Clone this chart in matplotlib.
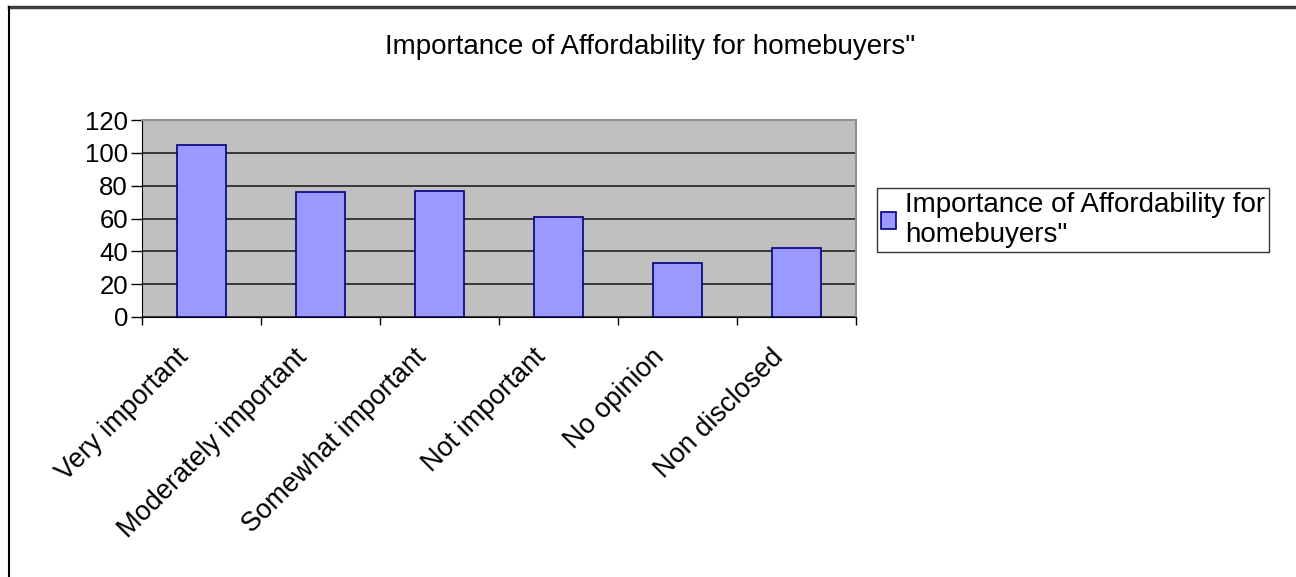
import numpy as np
import matplotlib
matplotlib.use("Agg")
import matplotlib.pyplot as plt
from matplotlib.lines import Line2D

plt.rcParams['font.family'] = ['Liberation Sans', 'DejaVu Sans']

categories = ["Very important", "Moderately important", "Somewhat important",
              "Not important", "No opinion", "Non disclosed"]
values = [105, 76, 77, 61, 33, 42]
series_name = 'Importance of Affordability for\nhomebuyers"'
title = 'Importance of Affordability for homebuyers"'
yticks = [0, 20, 40, 60, 80, 100, 120]

fig = plt.figure(figsize=(12.96, 5.77), dpi=100)
W, H = 1296, 577
ax = fig.add_axes([142 / W, 1 - 317 / H, (856 - 142) / W, (317 - 120) / H])

x = np.arange(len(categories))
ax.set_facecolor("#C0C0C0")
ax.bar(x, values, width=0.41, color="#9999FF", edgecolor="#000080",
       linewidth=1.2, zorder=3, label=series_name)
ax.set_xlim(-0.5, len(categories) - 0.5)
ax.set_ylim(0, 120)
ax.set_yticks(yticks)
ax.set_yticklabels([str(v) for v in yticks], fontsize=18.5)
ax.yaxis.grid(True, color="#202020", linewidth=1.2, zorder=1)
ax.set_axisbelow(True)

# category boundaries as ticks
ax.set_xticks(np.arange(len(categories) + 1) - 0.5)
ax.set_xticklabels([])
ax.tick_params(axis="x", direction="out", length=6, width=1, color="black")
ax.tick_params(axis="y", direction="out", length=8, width=1, color="black", pad=2)
for i, c in enumerate(categories):
    ax.text(i - 0.22, -16.5, c, rotation=45, ha="right", va="top",
            rotation_mode="anchor", fontsize=19.5)

for s in ["top", "right"]:
    ax.spines[s].set_color("#909090")
    ax.spines[s].set_linewidth(1.5)
ax.spines["left"].set_color("black")
ax.spines["bottom"].set_color("black")

fig.text(650 / W, 1 - 47 / H, title, ha="center", va="center", fontsize=20)

leg = fig.legend(loc="center left", bbox_to_anchor=(877 / W, 1 - 220 / H),
                 fontsize=20, frameon=True, fancybox=False, handlelength=0.55,
                 handleheight=0.55, handletextpad=0.3, borderpad=0.15,
                 labelspacing=0.05, borderaxespad=0)
leg.get_frame().set_edgecolor("black")
leg.get_frame().set_linewidth(1)

# outer chart border (top and left only visible)
fig.add_artist(Line2D([9 / W, 1], [1 - 7 / H, 1 - 7 / H], color="#404040",
                      linewidth=2.5, transform=fig.transFigure))
fig.add_artist(Line2D([9 / W, 9 / W], [0, 1 - 7 / H], color="black",
                      linewidth=1.5, transform=fig.transFigure))

fig.savefig("out.png", dpi=100)
